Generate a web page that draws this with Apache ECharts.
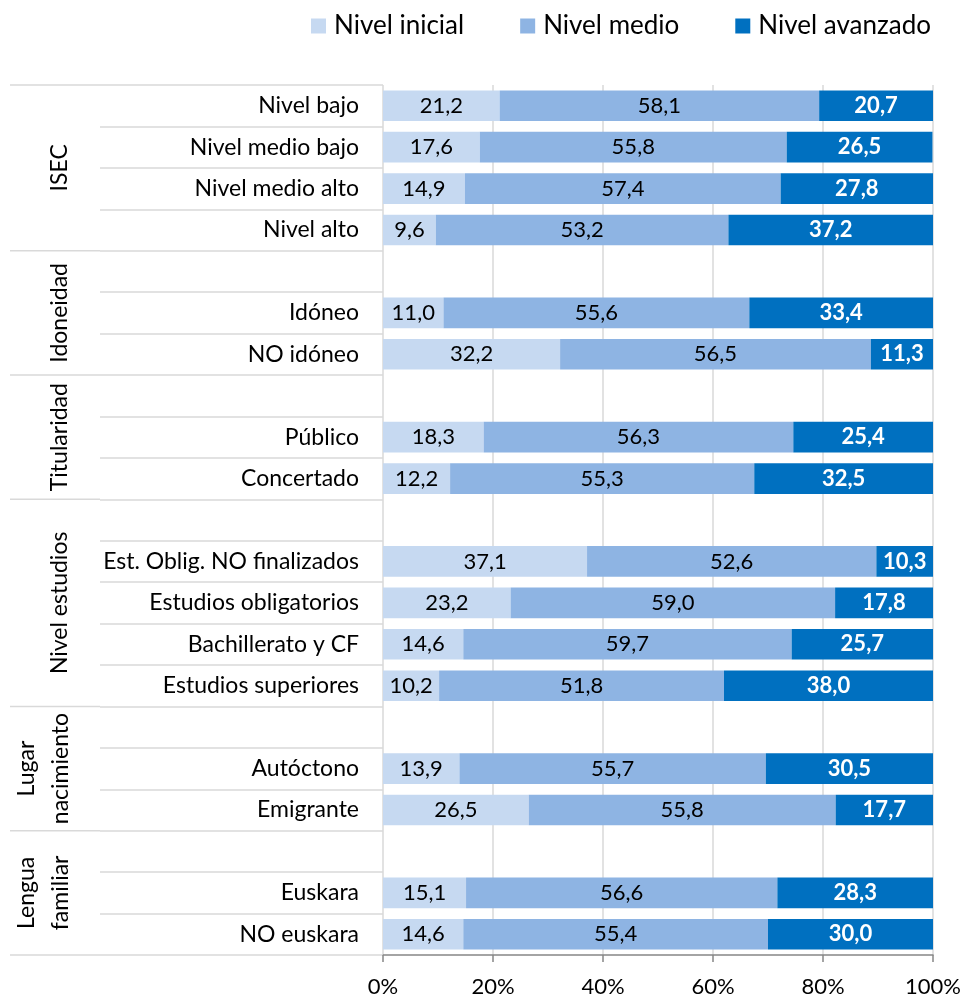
<!DOCTYPE html>
<html>
<head>
<meta charset="utf-8">
<script src="https://cdn.jsdelivr.net/npm/echarts@6/dist/echarts.min.js"></script>
<style>
html,body{margin:0;padding:0;background:#fff;}
#c{width:964px;height:1001px;}
</style>
</head>
<body>
<div id="c"></div>
<script>
var categories = ['Nivel bajo','Nivel medio bajo','Nivel medio alto','Nivel alto',
  ' ','Idóneo','NO idóneo',
  '  ','Público','Concertado',
  '   ','Est. Oblig. NO finalizados','Estudios obligatorios','Bachillerato y CF','Estudios superiores',
  '    ','Autóctono','Emigrante',
  '     ','Euskara','NO euskara'];
var nivelInicial = [21.2,17.6,14.9,9.6, null,11.0,32.2, null,18.3,12.2, null,37.1,23.2,14.6,10.2, null,13.9,26.5, null,15.1,14.6];
var nivelMedio   = [58.1,55.8,57.4,53.2, null,55.6,56.5, null,56.3,55.3, null,52.6,59.0,59.7,51.8, null,55.7,55.8, null,56.6,55.4];
var nivelAvanzado= [20.7,26.5,27.8,37.2, null,33.4,11.3, null,25.4,32.5, null,10.3,17.8,25.7,38.0, null,30.5,17.7, null,28.3,30.0];
var groupNames = ['ISEC','Idoneidad','Titularidad','Nivel estudios','Lugar\nnacimiento','Lengua\nfamiliar'];
var groupSizes = [4,3,3,5,3,3];
var xTicks = [0,20,40,60,80,100];

var FONT = 'Lato, "Open Sans", sans-serif';
var chart = echarts.init(document.getElementById('c'));
function fmt(p){ return (p.value==null||p.value==='') ? '' : Number(p.value).toFixed(1).replace('.', ','); }
function mkSeries(name, data, color, lblColor, bold){
  return {
    name: name, type: 'bar', stack: 'total', data: data,
    barCategoryGap: '26%',
    itemStyle: {color: color},
    label: {show: true, position: 'inside', formatter: fmt, fontSize: 22, fontFamily: FONT,
            color: lblColor, fontWeight: bold ? 'bold' : 'normal'}
  };
}
chart.setOption({
  animation: false,
  textStyle: {fontFamily: FONT},
  legend: {
    top: 8, left: 306, itemWidth: 15, itemHeight: 15, itemGap: 56,
    icon: 'rect',
    textStyle: {fontSize: 26, color: '#000', fontFamily: FONT, padding: [0, 0, 0, 3]},
    data: ['Nivel inicial','Nivel medio','Nivel avanzado']
  },
  grid: {left: 383, right: 31, top: 85, bottom: 46, containLabel: false},
  xAxis: {
    type: 'value', min: xTicks[0], max: xTicks[xTicks.length-1], interval: 20,
    axisLabel: {formatter: '{value}%', fontSize: 22, color: '#000', margin: 21, fontFamily: FONT},
    axisLine: {show: true, lineStyle: {color: '#868686', width: 1.5}},
    axisTick: {show: true, length: 7, lineStyle: {color: '#868686', width: 1.5}},
    splitLine: {show: true, lineStyle: {color: '#d9d9d9', width: 1.5}}
  },
  yAxis: {
    type: 'category', inverse: true, data: categories,
    axisLine: {show: false},
    axisTick: {show: true, interval: 0, length: 283, lineStyle: {color: '#d9d9d9', width: 1.5}},
    axisLabel: {fontSize: 23, color: '#000', margin: 24, interval: 0, fontFamily: FONT}
  },
  series: [
    mkSeries('Nivel inicial', nivelInicial, '#c6d9f1', '#000', false),
    mkSeries('Nivel medio', nivelMedio, '#8eb4e3', '#000', false),
    mkSeries('Nivel avanzado', nivelAvanzado, '#0070c0', '#fff', true)
  ]
});

// group separators and rotated group labels, positioned from the category axis scale
var p0 = chart.convertToPixel({yAxisIndex: 0}, 0);
var p1 = chart.convertToPixel({yAxisIndex: 0}, 1);
var band = p1 - p0;
var graphics = [];
var start = 0;
function boundaryY(idx){ return p0 + (idx - 0.5) * band; }
graphics.push({type:'line', shape:{x1:10, y1:boundaryY(0), x2:100, y2:boundaryY(0)}, style:{stroke:'#d9d9d9', lineWidth:1.5}, silent:true});
for (var g = 0; g < groupNames.length; g++) {
  var end = start + groupSizes[g];
  var yTop = boundaryY(start), yBot = boundaryY(end);
  graphics.push({type:'line', shape:{x1:10, y1:yBot, x2:100, y2:yBot}, style:{stroke:'#d9d9d9', lineWidth:1.5}, silent:true});
  var twoLine = groupNames[g].indexOf('\n') >= 0;
  graphics.push({
    type: 'text', x: twoLine ? 44 : 60, y: (yTop + yBot) / 2, rotation: Math.PI / 2,
    style: {text: groupNames[g], fill: '#000', font: '23px ' + FONT, align: 'center', verticalAlign: 'middle', lineHeight: 34},
    silent: true
  });
  start = end;
}
chart.setOption({graphic: graphics});
</script>
</body>
</html>
